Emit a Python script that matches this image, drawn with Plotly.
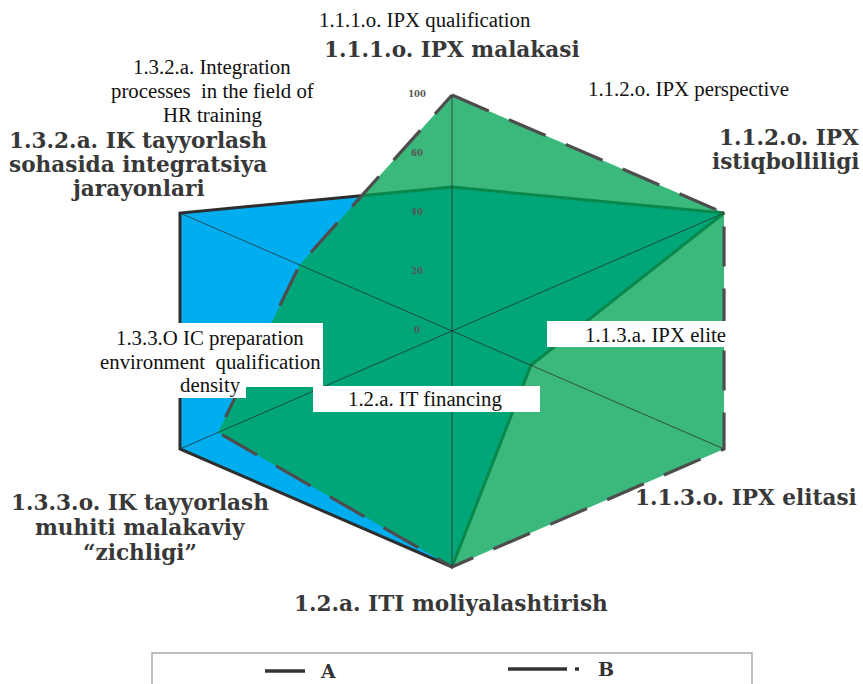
import math
import plotly.graph_objects as go

# ---------------- data ----------------
axis_labels = [
    "1.1.1.o. IPX malakasi",
    "1.1.2.o. IPX<br>istiqbolliligi",
    "1.1.3.o. IPX elitasi",
    "1.2.a. ITI moliyalashtirish",
    "1.3.3.o. IK tayyorlash<br>muhiti malakaviy<br>“zichligi”",
    "1.3.2.a. IK tayyorlash<br>sohasida integratsiya<br>jarayonlari",
]
axis_labels_en = [
    "1.1.1.o. IPX qualification",
    "1.1.2.o. IPX perspective",
    "1.1.3.a. IPX elite",
    "1.2.a. IT financing",
    "1.3.3.O IC preparation<br>environment  qualification<br>density",
    "1.3.2.a. Integration<br>processes  in the field of<br>HR training",
]
series_names = ["A", "B"]
values_a = [61, 100, 29, 100, 100, 100]
values_b = [100, 100, 100, 100, 86, 56]
tick_vals = [0, 25, 50, 75, 100]
tick_text = ["0", "20", "40", "60", "100"]

# ---------------- geometry / style ----------------
W, H = 863, 684
CX, CY = 452, 331          # centre of the radar in px
PX_PER_UNIT = 2.36         # vertical px per value unit
SX = 1.331                 # horizontal stretch of the radar

N = len(axis_labels)
angles = [2 * math.pi * i / N for i in range(N)]


def to_xy(vals):
    xs = [v * math.sin(a) * SX for v, a in zip(vals, angles)]
    ys = [v * math.cos(a) for v, a in zip(vals, angles)]
    return xs + xs[:1], ys + ys[:1]


def px(x):
    return x / W


def py(y):
    return 1 - y / H


fig = go.Figure()

xa, ya = to_xy(values_a)
fig.add_trace(go.Scatter(
    x=xa, y=ya, mode="lines", fill="toself", name=series_names[0],
    fillcolor="#00AEEF", line=dict(color="#2e2e2e", width=3),
    showlegend=False, hoverinfo="skip"))

xb, yb = to_xy(values_b)
fig.add_trace(go.Scatter(
    x=xb, y=yb, mode="lines", fill="toself", name=series_names[1],
    fillcolor="rgba(0,162,83,0.77)",
    line=dict(color="#4d4d4d", width=3.2, dash="40px,22px"),
    showlegend=False, hoverinfo="skip"))

# spokes
sx, sy = [], []
full = [100] * N
fx, fy = to_xy(full)
for i in range(N):
    sx += [0, fx[i], None]
    sy += [0, fy[i], None]
fig.add_trace(go.Scatter(x=sx, y=sy, mode="lines",
                         line=dict(color="rgba(45,45,45,0.75)", width=1),
                         showlegend=False, hoverinfo="skip"))

# radial tick labels
fig.add_trace(go.Scatter(
    x=[(417 - CX) / PX_PER_UNIT] * len(tick_vals), y=tick_vals,
    mode="text", text=tick_text,
    textfont=dict(family="DejaVu Serif", size=8.5, color="#555555", weight="bold"),
    showlegend=False, hoverinfo="skip"))

# ---------------- white boxes behind the English labels ----------------
boxes = [(547, 321, 731, 347), (100, 323, 323, 387), (176, 387, 246, 398),
         (313, 386, 540, 412)]
shapes = []
for x0, y0, x1, y1 in boxes:
    shapes.append(dict(type="rect", xref="paper", yref="paper",
                       x0=px(x0), x1=px(x1), y0=py(y1), y1=py(y0),
                       fillcolor="white", line=dict(width=0), layer="above"))

annotations = []

# bold Uzbek labels: (x, first line y, line gap, anchor)
bold_pos = [(452, 49, 0, "center"), (861, 138, 24, "right"), (859, 497, 0, "right"),
            (451, 603, 0, "center"), (140, 502, 25, "center"), (138, 141, 23.5, "center")]
for lab, (x, y, gap, anc) in zip(axis_labels, bold_pos):
    lines = lab.split("<br>")
    for k, line in enumerate(lines):
        annotations.append(dict(
            x=px(x), y=py(y + k * gap), xref="paper", yref="paper",
            text=line, showarrow=False, xanchor=anc, yanchor="middle",
            font=dict(family="DejaVu Serif", size=21.6, color="#383838", weight="bold")))

# English labels
en_pos = [(425, 20, 0, "center"), (688, 89, 0, "center"), (728, 335, 0, "right"),
          (425, 399, 0, "center"), (210, 338, 23.5, "center"), (212, 67, 24, "center")]
for lab, (x, y, gap, anc) in zip(axis_labels_en, en_pos):
    for k, line in enumerate(lab.split("<br>")):
        annotations.append(dict(
            x=px(x), y=py(y + k * gap), xref="paper", yref="paper",
            text=line, showarrow=False, xanchor=anc, yanchor="middle",
            font=dict(family="Liberation Serif", size=20.8, color="#111111")))

# ---------------- legend (drawn) ----------------
shapes.append(dict(type="rect", xref="paper", yref="paper",
                   x0=px(152), x1=px(752), y0=py(700), y1=py(653),
                   line=dict(color="#aaaaaa", width=1.5), fillcolor="rgba(0,0,0,0)",
                   layer="above"))
shapes.append(dict(type="line", xref="paper", yref="paper",
                   x0=px(265), x1=px(305), y0=py(671), y1=py(671),
                   line=dict(color="#333333", width=3.5), layer="above"))
shapes.append(dict(type="line", xref="paper", yref="paper",
                   x0=px(508), x1=px(567), y0=py(669), y1=py(669),
                   line=dict(color="#333333", width=3.5), layer="above"))
shapes.append(dict(type="line", xref="paper", yref="paper",
                   x0=px(575), x1=px(579), y0=py(669), y1=py(669),
                   line=dict(color="#333333", width=3.5), layer="above"))
for name, x, y in [(series_names[0], 328, 671), (series_names[1], 606, 669)]:
    annotations.append(dict(
        x=px(x), y=py(y), xref="paper", yref="paper", text=name, showarrow=False,
        xanchor="center", yanchor="middle",
        font=dict(family="DejaVu Serif", size=19, color="#333333", weight="bold")))

fig.update_layout(
    width=W, height=H, margin=dict(l=0, r=0, t=0, b=0),
    paper_bgcolor="white", plot_bgcolor="white",
    xaxis=dict(range=[-CX / PX_PER_UNIT, (W - CX) / PX_PER_UNIT], visible=False,
               fixedrange=True),
    yaxis=dict(range=[-(H - CY) / PX_PER_UNIT, CY / PX_PER_UNIT], visible=False,
               fixedrange=True),
    shapes=shapes, annotations=annotations, showlegend=False,
)

fig.write_html(
    "out.html",
    config={"displayModeBar": False},
    post_script="document.body.style.margin='0';document.body.style.overflow='hidden';",
)
